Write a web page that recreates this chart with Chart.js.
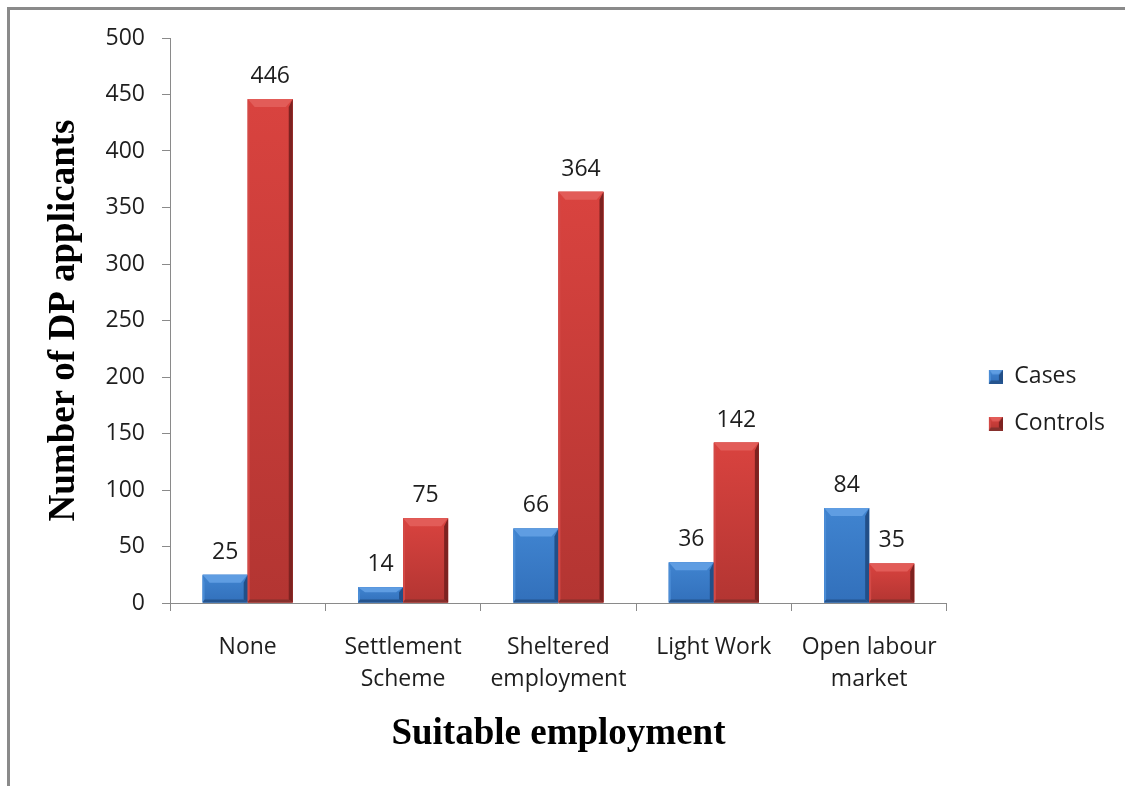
<!DOCTYPE html>
<html>
<head>
<meta charset="utf-8">
<script src="https://cdn.jsdelivr.net/npm/chart.js@4.4.0/dist/chart.umd.min.js"></script>
<style>
  html, body { margin: 0; padding: 0; background: #fff; overflow: hidden; }
  #frame { position: absolute; left: 7px; top: 7px; width: 1400px; height: 1000px;
           border-left: 3px solid #8a8a8a; border-top: 3px solid #8a8a8a; }
  #wrap { position: absolute; left: 0; top: 0; width: 1125px; height: 786px; }
</style>
</head>
<body>
<div id="frame"></div>
<div id="wrap"><canvas id="chart" width="1125" height="786"></canvas></div>
<script>
var categories = [['None'], ['Settlement', 'Scheme'], ['Sheltered', 'employment'], ['Light Work'], ['Open labour', 'market']];
var cases    = [25, 14, 66, 36, 84];
var controls = [446, 75, 364, 142, 35];
var yTicks   = [0, 50, 100, 150, 200, 250, 300, 350, 400, 450, 500];

var labelFont = "'Open Sans', 'Liberation Sans', sans-serif";
var titleFont = "'Liberation Serif', 'Times New Roman', serif";
var textSize = 23;

// facet colours for the bevelled bars
var palettes = [
  { top: '#5f9de2', bodyTop: '#4084d0', bodyBot: '#3270bb', left: '#4b8dd6', right: '#224f88', bottom: '#25548e' },
  { top: '#e25c58', bodyTop: '#d9433f', bodyBot: '#b33532', left: '#d34946', right: '#7d2220', bottom: '#86302d' }
];

var poly = function(ctx, pts, fill) {
  ctx.beginPath();
  ctx.moveTo(pts[0][0], pts[0][1]);
  for (var i = 1; i < pts.length; i++) ctx.lineTo(pts[i][0], pts[i][1]);
  ctx.closePath();
  ctx.fillStyle = fill;
  ctx.fill();
};

var drawBevel = function(ctx, L, R, T, B, pal) {
  var h = B - T;
  if (h <= 0) return;
  var b = Math.min(8, h / 3);
  var s = Math.min(7, (R - L) / 4);
  var rl = 2, rr = 4, bb = 3;
  var g = ctx.createLinearGradient(0, T, 0, B);
  g.addColorStop(0, pal.bodyTop);
  g.addColorStop(1, pal.bodyBot);
  ctx.fillStyle = g;
  ctx.fillRect(L, T, R - L, h);
  poly(ctx, [[L, T], [L + rl, T + b], [L + rl, B - bb], [L, B]], pal.left);
  poly(ctx, [[R, T], [R - rr, T + b], [R - rr, B - bb], [R, B]], pal.right);
  poly(ctx, [[L, B], [L + rl, B - bb], [R - rr, B - bb], [R, B]], pal.bottom);
  poly(ctx, [[L, T], [R, T], [R - s, T + b], [L + s, T + b]], pal.top);
};

// legend swatch: transparent margin on the left, bevelled square on the right
var makeSwatch = function(pal) {
  var c = document.createElement('canvas');
  c.width = 32; c.height = 14;
  drawBevel(c.getContext('2d'), 18, 32, 0, 14, pal);
  return c;
};
var swatches = [makeSwatch(palettes[0]), makeSwatch(palettes[1])];

var bevelBars = {
  id: 'bevelBars',
  afterDatasetsDraw: function(chart) {
    var ctx = chart.ctx;
    ctx.save();
    chart.data.datasets.forEach(function(ds, di) {
      var meta = chart.getDatasetMeta(di);
      meta.data.forEach(function(el, i) {
        var p = el.getProps(['x', 'y', 'base', 'width'], true);
        drawBevel(ctx, p.x - p.width / 2, p.x + p.width / 2, p.y, p.base, palettes[di]);
        // value above the bar
        ctx.fillStyle = '#1e1e1e';
        ctx.font = textSize + 'px ' + labelFont;
        ctx.textAlign = 'center';
        ctx.textBaseline = 'alphabetic';
        ctx.fillText(String(ds.data[i]), p.x, p.y - 16);
      });
    });
    ctx.restore();
  }
};

new Chart(document.getElementById('chart'), {
  type: 'bar',
  data: {
    labels: categories,
    datasets: [
      { label: 'Cases', data: cases, backgroundColor: '#3f7fca' },
      { label: 'Controls', data: controls, backgroundColor: '#c83c39' }
    ]
  },
  options: {
    responsive: false,
    animation: false,
    events: [],
    layout: { padding: { left: 42, top: 38, right: 10, bottom: 24 } },
    datasets: { bar: { categoryPercentage: 0.58, barPercentage: 1.0 } },
    plugins: {
      tooltip: { enabled: false },
      legend: {
        position: 'right',
        labels: {
          usePointStyle: true, pointStyleWidth: 32, boxHeight: 14, padding: 24,
          color: '#1e1e1e',
          font: { family: labelFont, size: textSize },
          generateLabels: function(chart) {
            var items = Chart.defaults.plugins.legend.labels.generateLabels(chart);
            items.forEach(function(it) { it.pointStyle = swatches[it.datasetIndex]; });
            return items;
          }
        }
      }
    },
    scales: {
      x: {
        afterFit: function(scale) { scale.height = 159; },
        grid: { drawOnChartArea: false, tickLength: 8, color: '#8a8a8a' },
        border: { color: '#8a8a8a', width: 1 },
        ticks: { color: '#1e1e1e', padding: 20, maxRotation: 0, font: { family: labelFont, size: textSize, lineHeight: 1.39 } },
        title: { display: true, text: 'Suitable employment', color: '#000', padding: { top: 0, bottom: 5 },
                 font: { family: titleFont, size: 37, weight: 'bold' } }
      },
      y: {
        min: 0, max: 500,
        afterFit: function(scale) { scale.width = 128; },
        afterBuildTicks: function(scale) { scale.ticks = yTicks.map(function(v) { return { value: v }; }); },
        grid: { drawOnChartArea: false, tickLength: 8, color: '#8a8a8a' },
        border: { color: '#8a8a8a', width: 1 },
        ticks: { color: '#1e1e1e', padding: 17, font: { family: labelFont, size: textSize } },
        title: { display: true, text: 'Number of DP applicants', color: '#000', padding: { top: 0, bottom: 0 },
                 font: { family: titleFont, size: 37, weight: 'bold' } }
      }
    }
  },
  plugins: [bevelBars]
});
</script>
</body>
</html>
